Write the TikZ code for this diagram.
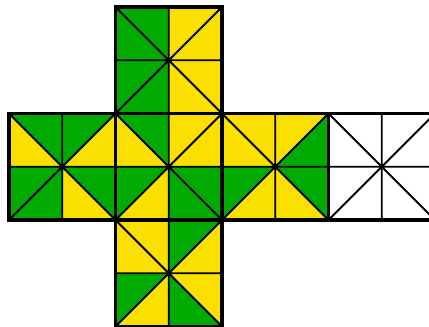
\documentclass[tikz,border=0pt]{standalone}
\definecolor{cg}{RGB}{0,170,0}
\definecolor{cy}{RGB}{250,224,0}
\tikzset{
  innerline/.style={line width=1.9pt, black},
  faceborder/.style={line width=3.3pt, black, line cap=rect, line join=miter}
}
\newcommand\cubeface[9]{%
\begin{scope}[shift={#1},x=106.5pt,y=-106.5pt]
  \fill[#2] (0,0) -- (.5,0) -- (.5,.5) -- cycle;
  \fill[#3] (0,0) -- (.5,.5) -- (0,.5) -- cycle;
  \fill[#4] (.5,0) -- (1,0) -- (.5,.5) -- cycle;
  \fill[#5] (1,0) -- (1,.5) -- (.5,.5) -- cycle;
  \fill[#6] (0,.5) -- (.5,.5) -- (0,1) -- cycle;
  \fill[#7] (.5,.5) -- (.5,1) -- (0,1) -- cycle;
  \fill[#8] (.5,.5) -- (.5,1) -- (1,1) -- cycle;
  \fill[#9] (.5,.5) -- (1,.5) -- (1,1) -- cycle;
  \draw[innerline] (0,0) -- (1,1) (1,0) -- (0,1) (.5,0) -- (.5,1) (0,.5) -- (1,.5);
  \draw[faceborder] (0,0) rectangle (1,1);
\end{scope}}
\begin{document}
\begin{tikzpicture}
\useasboundingbox (0pt,0pt) rectangle (429pt,-327pt);
\fill[white] (0pt,0pt) rectangle (429pt,-327pt);
\cubeface{(115.5pt,-7pt)}{cg}{cg}{cy}{cy}{cg}{cg}{cy}{cy}
\cubeface{(9pt,-113.5pt)}{cg}{cy}{cg}{cy}{cg}{cg}{cy}{cg}
\cubeface{(115.5pt,-113.5pt)}{cg}{cy}{cy}{cy}{cg}{cy}{cg}{cg}
\cubeface{(222pt,-113.5pt)}{cy}{cy}{cy}{cg}{cg}{cy}{cy}{cg}
\cubeface{(328.5pt,-113.5pt)}{white}{white}{white}{white}{white}{white}{white}{white}
\cubeface{(115.5pt,-220pt)}{cy}{cy}{cg}{cy}{cg}{cy}{cg}{cy}
\end{tikzpicture}
\end{document}
